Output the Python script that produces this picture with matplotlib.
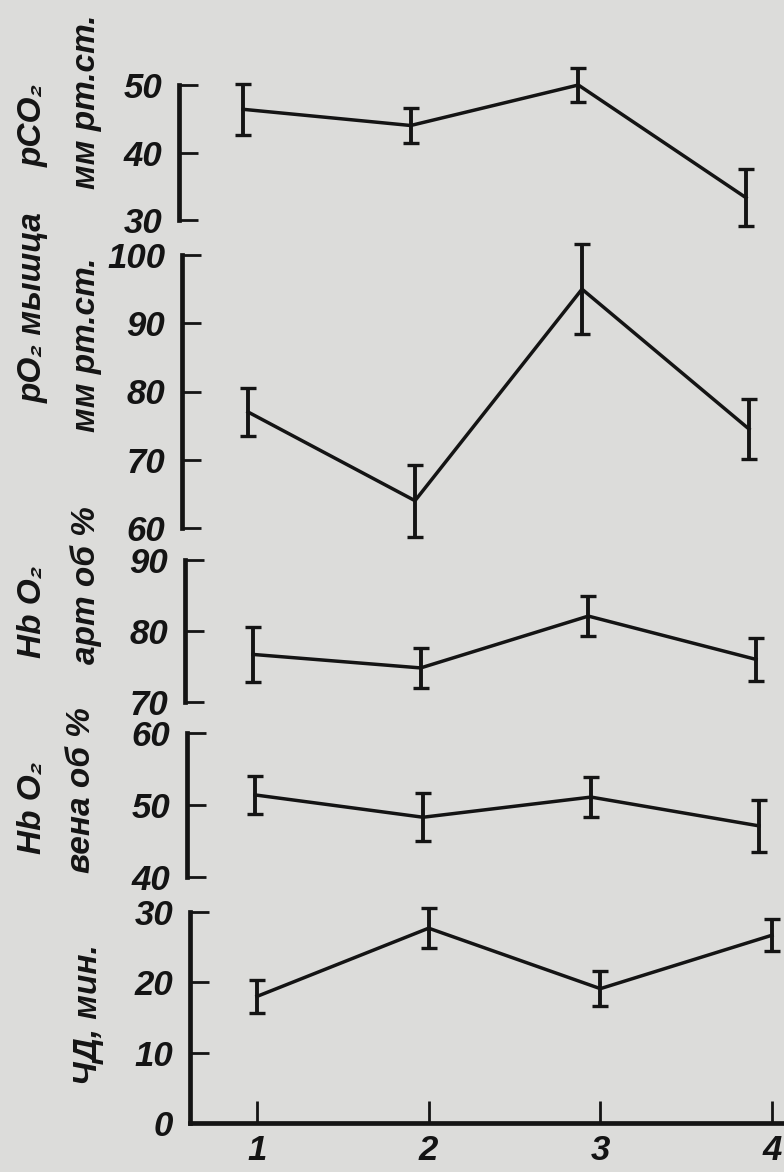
import numpy as np
import matplotlib.pyplot as plt

# values (stages 1..4)
stages = [1, 2, 3, 4]

pco2 = [46.4, 44.0, 50.0, 33.3]
pco2_err = [3.8, 2.6, 2.5, 4.2]

po2_muscle = [77.0, 64.0, 95.0, 74.5]
po2_muscle_err = [3.5, 5.3, 6.6, 4.4]

hbo2_art = [76.7, 74.8, 82.1, 76.0]
hbo2_art_err = [3.9, 2.8, 2.8, 3.0]

hbo2_vena = [51.4, 48.3, 51.1, 47.1]
hbo2_vena_err = [2.6, 3.3, 2.8, 3.6]

resp_rate = [18.0, 27.7, 19.1, 26.7]
resp_rate_err = [2.4, 2.8, 2.5, 2.3]

series = [pco2, po2_muscle, hbo2_art, hbo2_vena, resp_rate]
errors = [pco2_err, po2_muscle_err, hbo2_art_err, hbo2_vena_err, resp_rate_err]
ylims = [(30, 50), (60, 100), (70, 90), (40, 60), (0, 30)]
yticks = [[30, 40, 50], [60, 70, 80, 90, 100], [70, 80, 90], [40, 50, 60], [0, 10, 20, 30]]
labels = [("pCO₂", "мм рт.ст."),
          ("pO₂ мышца", "мм рт.ст."),
          ("Hb O₂", "арт об %"),
          ("Hb O₂", "вена об %"),
          (None, "ЧД, мин.")]

# layout in pixels (the hand drawing is slightly skewed)
W, H = 784, 1172
left_px = [179, 182, 185, 187, 190]
right_px = 782
x1_px = [243, 248, 253, 255, 257]
x4_px = [746, 749, 756, 759, 772]
top_px = [85, 255, 560, 733, 912]
bot_px = [220, 528, 702, 877, 1123]
lab1_px = [(33, 125), (33, 308), (33, 612), (33, 808), None]
lab2_px = [(86, 102), (86, 345), (86, 585), (82, 790), (88, 1015)]

ink = "#141414"
paper = "#dcdcda"
fams = ["Liberation Sans", "DejaVu Sans"]
numfont = dict(family=fams, weight="bold", style="italic", size=25)
labfont = dict(family=fams, weight="bold", style="italic", size=24, color=ink)

fig = plt.figure(figsize=(W / 100, H / 100), dpi=100)
fig.patch.set_facecolor(paper)

for i in range(5):
    l, t, b = left_px[i], top_px[i], bot_px[i]
    ax = fig.add_axes([l / W, 1 - b / H, (right_px - l) / W, (b - t) / H])
    ax.patch.set_alpha(0)

    s = 3.0 / (x4_px[i] - x1_px[i])
    ax.set_xlim(1 - (x1_px[i] - l) * s, 4 + (right_px - x4_px[i]) * s)
    ax.set_ylim(*ylims[i])

    ax.errorbar(stages, series[i], yerr=errors[i], fmt="-", color=ink, lw=2.5,
                elinewidth=2.8, capsize=6, capthick=2.4, clip_on=False)

    for sp in ["top", "right"]:
        ax.spines[sp].set_visible(False)
    ax.spines["left"].set_linewidth(3.4)
    ax.spines["left"].set_color(ink)

    ax.set_yticks(yticks[i])
    ax.set_yticklabels([str(v) for v in yticks[i]], fontdict=numfont, color=ink)
    ax.tick_params(axis="y", direction="in", length=14, width=2, color=ink, pad=12)

    if i < 4:
        ax.spines["bottom"].set_visible(False)
        ax.set_xticks([])
    else:
        ax.spines["bottom"].set_linewidth(3.4)
        ax.spines["bottom"].set_color(ink)
        ax.set_xticks(stages)
        ax.set_xticklabels([str(v) for v in stages], fontdict=numfont, color=ink)
        ax.tick_params(axis="x", direction="in", length=16, width=2, color=ink, pad=8)

    if labels[i][0] is not None:
        x, y = lab1_px[i]
        fig.text(x / W, 1 - y / H, labels[i][0], rotation=90, ha="center",
                 va="center", **labfont)
    x, y = lab2_px[i]
    fig.text(x / W, 1 - y / H, labels[i][1], rotation=90, ha="center",
             va="center", **labfont)

plt.savefig("out.png", dpi=100, facecolor=paper)
